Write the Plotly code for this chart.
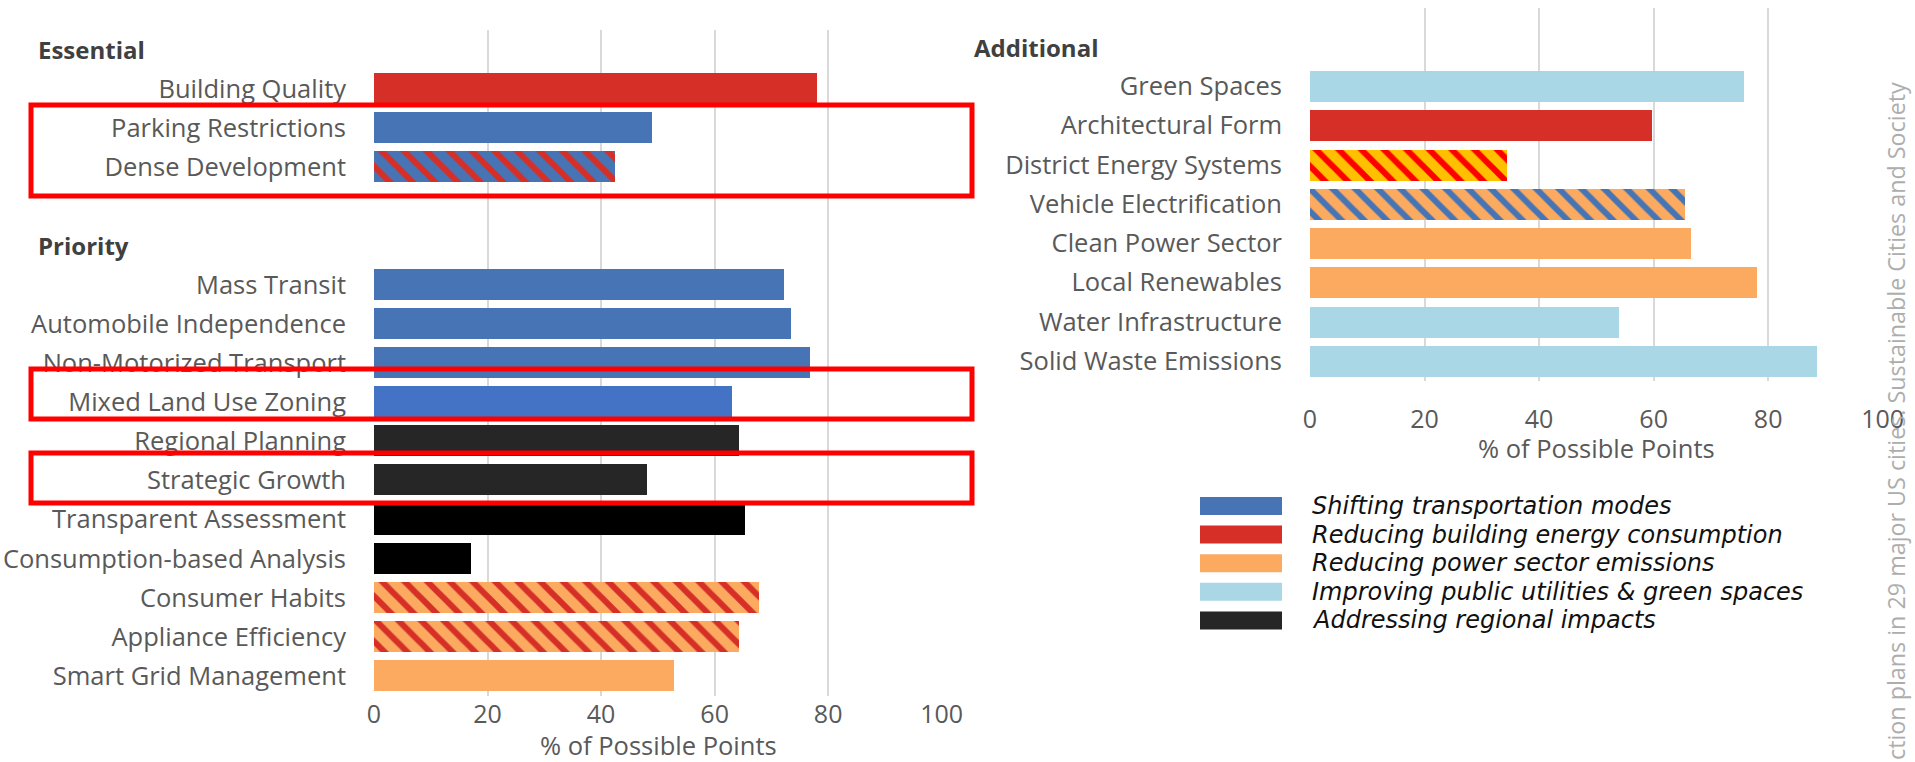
import plotly.graph_objects as go

# ---------------------------------------------------------------- data
ESSENTIAL = ["Building Quality", "Parking Restrictions", "Dense Development"]
ESSENTIAL_PCT = [78.0, 49.0, 42.5]
ESSENTIAL_FILL = ["building", "transport", "transport"]
ESSENTIAL_STRIPE = [None, None, "building"]

PRIORITY = ["Mass Transit", "Automobile Independence", "Non-Motorized Transport",
            "Mixed Land Use Zoning", "Regional Planning", "Strategic Growth",
            "Transparent Assessment", "Consumption-based Analysis", "Consumer Habits",
            "Appliance Efficiency", "Smart Grid Management"]
PRIORITY_PCT = [72.2, 73.4, 76.8, 63.0, 64.3, 48.0, 65.4, 17.1, 67.8, 64.3, 52.8]
PRIORITY_FILL = ["transport", "transport", "transport", "transport", "regional",
                 "regional", "regional", "regional", "power", "power", "power"]
PRIORITY_STRIPE = [None, None, None, None, None, None, None, None,
                   "building", "building", None]

ADDITIONAL = ["Green Spaces", "Architectural Form", "District Energy Systems",
              "Vehicle Electrification", "Clean Power Sector", "Local Renewables",
              "Water Infrastructure", "Solid Waste Emissions"]
ADDITIONAL_PCT = [75.7, 59.8, 34.4, 65.4, 66.6, 78.0, 54.0, 88.5]
ADDITIONAL_FILL = ["utilities", "building", "power", "power", "power", "power",
                   "utilities", "utilities"]
ADDITIONAL_STRIPE = [None, None, "building", "transport", None, None, None, None]

LEGEND_THEMES = ["transport", "building", "power", "utilities", "regional"]
LEGEND_LABELS = ["Shifting transportation modes",
                 "Reducing building energy consumption",
                 "Reducing power sector emissions",
                 "Improving public utilities & green spaces",
                 "Addressing regional impacts"]

X_TICKS = [0, 20, 40, 60, 80, 100]
AXIS_TITLE = "% of Possible Points"
SOURCE_NOTE = "ction plans in 29 major US cities. Sustainable Cities and Society"

# ---------------------------------------------------------------- styles
THEME_COLOR = {
    "transport": "#4674B4",
    "building": "#D62F27",
    "power": "#FBAA60",
    "utilities": "#A9D7E6",
    "regional": "#262626",
}
# individual bars drawn with their own shade
FILL_OVERRIDE = {
    "Mixed Land Use Zoning": "#4472C4",
    "Transparent Assessment": "#000000",
    "Consumption-based Analysis": "#000000",
    "District Energy Systems": "#FFC000",
}
STRIPE_OVERRIDE = {"District Energy Systems": "#FF0000"}

W, H = 1915, 762
FONT = "Open Sans"
LABEL_GREY = "#595959"
GRID = "#D9D9D9"

# red outline boxes (left, top, right, bottom) in pixels
HIGHLIGHT_BOXES = [(31, 105, 972, 196), (31, 369, 972, 419), (31, 453, 972, 503)]


def px_x(p):
    return p / W


def px_y(p):
    return 1 - p / H


def build_rows(sections):
    """Lay out header rows, item rows and blank spacer rows top to bottom."""
    rows = []
    for k, (header, names, vals, fills, stripes) in enumerate(sections):
        if k > 0:
            rows.append(("blank", None, None, None, None))
        rows.append(("header", header, None, None, None))
        for n, v, f, s in zip(names, vals, fills, stripes):
            rows.append(("item", n, v, f, s))
    return rows


left_rows = build_rows([
    ("Essential", ESSENTIAL, ESSENTIAL_PCT, ESSENTIAL_FILL, ESSENTIAL_STRIPE),
    ("Priority", PRIORITY, PRIORITY_PCT, PRIORITY_FILL, PRIORITY_STRIPE),
])
right_rows = build_rows([
    ("Additional", ADDITIONAL, ADDITIONAL_PCT, ADDITIONAL_FILL, ADDITIONAL_STRIPE),
])

fig = go.Figure()
annotations = []


def add_panel(rows, xa, ya, header_x):
    tickvals, ticktext = [], []
    for i, (kind, name, val, fill, stripe) in enumerate(rows):
        if kind == "header":
            annotations.append(dict(
                text=f"<b>{name}</b>", x=px_x(header_x), xref="paper",
                y=i, yref=ya, xanchor="left", yanchor="middle", showarrow=False,
                font=dict(family=FONT, size=24, color="#404040")))
            continue
        if kind != "item":
            continue
        tickvals.append(i)
        ticktext.append(name)
        color = FILL_OVERRIDE.get(name, THEME_COLOR[fill])
        marker = dict(color=color, line=dict(width=0))
        if stripe:
            marker["pattern"] = dict(
                shape="\\", size=16, solidity=0.38, fillmode="replace",
                bgcolor=color, fgcolor=STRIPE_OVERRIDE.get(name, THEME_COLOR[stripe]))
        fig.add_trace(go.Bar(
            x=[val], y=[i], orientation="h", width=0.79, marker=marker,
            xaxis=xa, yaxis=ya, showlegend=False, name=name,
            hovertemplate=f"{name}: %{{x}}%<extra></extra>"))
    return tickvals, ticktext


lt_vals, lt_text = add_panel(left_rows, "x", "y", 36)
rt_vals, rt_text = add_panel(right_rows, "x2", "y2", 972)

xaxis_common = dict(
    range=[0, 100.05], tickvals=X_TICKS, showgrid=True, gridcolor=GRID, gridwidth=1.5,
    zeroline=False, showline=False, ticks="", automargin=False, fixedrange=True,
    tickfont=dict(family=FONT, size=25, color=LABEL_GREY))
yaxis_common = dict(
    showgrid=False, zeroline=False, showline=False, ticks="", automargin=False,
    tickfont=dict(family=FONT, size=25.5, color=LABEL_GREY), fixedrange=True)

# left panel: rows centred 50px .. 676px; right panel: rows centred 47px .. 361px
L_TOP, L_STEP = 50.0, 626.0 / 16
R_TOP, R_STEP = 47.0, 314.0 / 8
l_range = [len(left_rows) - 0.5, -0.5]
r_range = [len(right_rows) - 0.5, -1.0]
l_dom = [px_y(L_TOP + l_range[0] * L_STEP), px_y(L_TOP + l_range[1] * L_STEP)]
r_dom = [px_y(R_TOP + r_range[0] * R_STEP), px_y(R_TOP + r_range[1] * R_STEP)]

fig.update_layout(
    xaxis=dict(domain=[px_x(374), px_x(942)], anchor="y", ticklabelstandoff=1, **xaxis_common),
    yaxis=dict(domain=l_dom, anchor="x", range=l_range, tickvals=lt_vals, ticktext=lt_text,
               ticklabelstandoff=27, **yaxis_common),
    xaxis2=dict(domain=[px_x(1310), px_x(1883)], anchor="y2", ticklabelstandoff=21, **xaxis_common),
    yaxis2=dict(domain=r_dom, anchor="x2", range=r_range, tickvals=rt_vals, ticktext=rt_text,
                ticklabelstandoff=27, **yaxis_common),
)

# axis titles
for cx, cy in [((374 + 942) / 2, 745), ((1310 + 1883) / 2, 448)]:
    annotations.append(dict(
        text=AXIS_TITLE, x=px_x(cx), y=px_y(cy), xref="paper", yref="paper",
        xanchor="center", yanchor="middle", showarrow=False, borderpad=0,
        font=dict(family=FONT, size=25.5, color=LABEL_GREY)))

# legend: swatches with italic labels
shapes = []
for k, (theme, label) in enumerate(zip(LEGEND_THEMES, LEGEND_LABELS)):
    cy = 506 + k * 28.6
    shapes.append(dict(type="rect", xref="paper", yref="paper",
                       x0=px_x(1200), x1=px_x(1282), y0=px_y(cy + 9), y1=px_y(cy - 9),
                       fillcolor=THEME_COLOR[theme], line=dict(width=0)))
    annotations.append(dict(
        text=f"<i>{label}</i>", x=px_x(1310), y=px_y(cy), xref="paper", yref="paper",
        xanchor="left", yanchor="middle", showarrow=False,
        font=dict(family="DejaVu Sans", size=24, color="#111111")))

# red outlines around the highlighted measures
for x0, y0, x1, y1 in HIGHLIGHT_BOXES:
    shapes.append(dict(type="rect", xref="paper", yref="paper",
                       x0=px_x(x0), x1=px_x(x1), y0=px_y(y1), y1=px_y(y0),
                       line=dict(color="#FF0000", width=5), fillcolor="rgba(0,0,0,0)"))

# rotated source note along the right edge
annotations.append(dict(
    text=SOURCE_NOTE, x=px_x(1896), y=0, xref="paper", yref="paper",
    xanchor="center", yanchor="bottom", textangle=-90, showarrow=False,
    font=dict(family=FONT, size=23.3, color="#ADADAD")))

fig.update_layout(
    width=W, height=H, autosize=False,
    margin=dict(l=0, r=0, t=0, b=0, pad=0),
    paper_bgcolor="white", plot_bgcolor="white",
    bargap=0, showlegend=False,
    annotations=annotations, shapes=shapes,
)

fig.write_html("out.html", config={"displayModeBar": False})
